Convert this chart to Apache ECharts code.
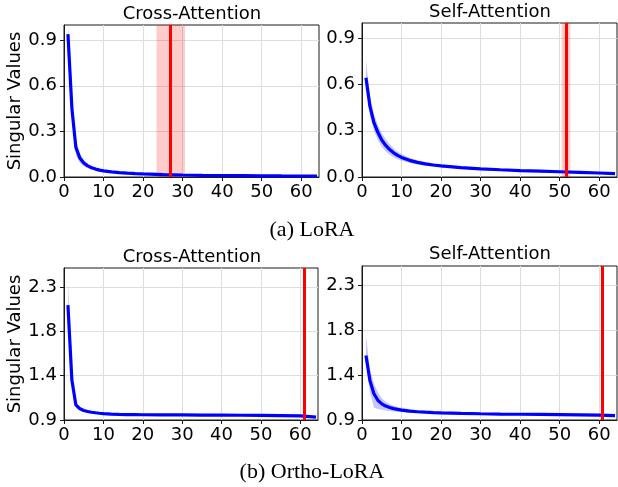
<!DOCTYPE html>
<html>
<head>
<meta charset="utf-8">
<script src="https://cdn.jsdelivr.net/npm/echarts@6/dist/echarts.min.js"></script>
<style>
  html, body { margin: 0; padding: 0; background: #fff; }
  #chart { width: 618px; height: 487px; }
</style>
</head>
<body>
<div id="chart"></div>
<script>
// singular value index (x) shared by all four panels
const xs = [1, 2, 3, 4, 5, 6, 7, 8, 9, 10, 12, 14, 16, 18, 20, 25, 30, 35, 40, 45, 50, 55, 60, 64];

// (a) LoRA, cross-attention
const loraCrossMean = [0.94, 0.45, 0.195, 0.125, 0.092, 0.073, 0.061, 0.052, 0.045, 0.040, 0.034, 0.029, 0.025, 0.022, 0.020, 0.016, 0.013, 0.011, 0.010, 0.009, 0.008, 0.007, 0.0065, 0.006];
const loraCrossLo = [0.90, 0.39, 0.145, 0.092, 0.071, 0.058, 0.050, 0.044, 0.039, 0.035, 0.030, 0.026, 0.022, 0.020, 0.018, 0.014, 0.012, 0.010, 0.009, 0.008, 0.007, 0.006, 0.006, 0.005];
const loraCrossHi = [1.10, 0.53, 0.245, 0.160, 0.114, 0.089, 0.072, 0.061, 0.052, 0.046, 0.038, 0.033, 0.028, 0.025, 0.022, 0.018, 0.014, 0.012, 0.011, 0.010, 0.009, 0.008, 0.007, 0.007];

// (a) LoRA, self-attention
const loraSelfMean = [0.645, 0.46, 0.355, 0.29, 0.24, 0.205, 0.178, 0.157, 0.140, 0.127, 0.108, 0.095, 0.085, 0.078, 0.072, 0.061, 0.053, 0.047, 0.042, 0.038, 0.034, 0.030, 0.026, 0.022];
const loraSelfLo = [0.60, 0.40, 0.300, 0.240, 0.196, 0.166, 0.145, 0.129, 0.116, 0.106, 0.091, 0.081, 0.073, 0.068, 0.063, 0.054, 0.047, 0.042, 0.038, 0.034, 0.031, 0.027, 0.023, 0.019];
const loraSelfHi = [0.76, 0.53, 0.410, 0.340, 0.285, 0.245, 0.212, 0.186, 0.165, 0.149, 0.125, 0.109, 0.097, 0.088, 0.081, 0.068, 0.059, 0.052, 0.046, 0.042, 0.037, 0.033, 0.029, 0.025];

// (b) Ortho-LoRA, cross-attention
const orthoCrossMean = [2.11, 1.32, 1.06, 1.02, 1.000, 0.990, 0.982, 0.976, 0.971, 0.967, 0.962, 0.959, 0.957, 0.956, 0.955, 0.954, 0.953, 0.952, 0.951, 0.950, 0.949, 0.947, 0.943, 0.930];
const orthoCrossLo = [2.05, 1.26, 1.030, 0.998, 0.986, 0.979, 0.974, 0.969, 0.965, 0.962, 0.958, 0.955, 0.953, 0.952, 0.951, 0.950, 0.949, 0.948, 0.947, 0.946, 0.945, 0.943, 0.939, 0.926];
const orthoCrossHi = [2.37, 1.39, 1.090, 1.042, 1.015, 1.002, 0.991, 0.984, 0.978, 0.973, 0.966, 0.963, 0.961, 0.960, 0.959, 0.958, 0.957, 0.956, 0.955, 0.954, 0.953, 0.951, 0.947, 0.934];

// (b) Ortho-LoRA, self-attention
const orthoSelfMean = [1.57, 1.31, 1.175, 1.105, 1.068, 1.045, 1.030, 1.018, 1.010, 1.003, 0.993, 0.986, 0.981, 0.977, 0.974, 0.969, 0.965, 0.962, 0.960, 0.958, 0.956, 0.954, 0.951, 0.946];
const orthoSelfLo = [1.52, 1.19, 1.030, 1.015, 1.006, 0.998, 0.993, 0.989, 0.986, 0.983, 0.978, 0.975, 0.972, 0.969, 0.967, 0.963, 0.960, 0.957, 0.955, 0.953, 0.951, 0.949, 0.946, 0.941];
const orthoSelfHi = [1.78, 1.43, 1.280, 1.190, 1.125, 1.090, 1.065, 1.048, 1.036, 1.027, 1.013, 1.002, 0.995, 0.989, 0.985, 0.977, 0.971, 0.967, 0.965, 0.963, 0.961, 0.959, 0.956, 0.951];

// red marker (rank cut-off) per panel, and its shaded spread
const redLines = [27, 51.6, 60.9, 60.8];
const redBands = [[23.4, 30.6], [50.5, 52.7], null, null];

// tick values
const xTicks = [0, 10, 20, 30, 40, 50, 60];
const loraYTicks = [0, 0.3, 0.6, 0.9];
const orthoYTicks = [0.9, 0.9 + 1.4 / 3, 0.9 + 2.8 / 3, 2.3];

const titles = ["Cross-Attention", "Self-Attention", "Cross-Attention", "Self-Attention"];
const captions = ["(a) LoRA", "(b) Ortho-LoRA"];

const SANS = "DejaVu Sans";
const INK = "#1a1a1a";

const panels = [
  { mean: loraCrossMean, lo: loraCrossLo, hi: loraCrossHi, yMin: 0, yMax: 1.0, yTicks: loraYTicks,
    box: { left: 64, top: 25, width: 255, height: 152 }, titleXY: [192, 14], ylabel: true },
  { mean: loraSelfMean, lo: loraSelfLo, hi: loraSelfHi, yMin: 0, yMax: 1.0, yTicks: loraYTicks,
    box: { left: 362, top: 23, width: 255, height: 154 }, titleXY: [490, 12], ylabel: false },
  { mean: orthoCrossMean, lo: orthoCrossLo, hi: orthoCrossHi, yMin: 0.9, yMax: 2.5, yTicks: orthoYTicks,
    box: { left: 64, top: 268, width: 254, height: 152 }, titleXY: [192, 257], ylabel: true },
  { mean: orthoSelfMean, lo: orthoSelfLo, hi: orthoSelfHi, yMin: 0.9, yMax: 2.5, yTicks: orthoYTicks,
    box: { left: 362, top: 266, width: 255, height: 154 }, titleXY: [490, 254], ylabel: false }
];

const pairs = (ys) => xs.map((x, i) => [x, ys[i]]);

// polygon between lo and hi, mapped through the panel's axes
function bandRenderer(p) {
  return function (params, api) {
    if (params.dataIndex !== 0) return null;
    const upper = xs.map((x, k) => api.coord([x, p.hi[k]]));
    const lower = xs.map((x, k) => api.coord([x, p.lo[k]])).reverse();
    const cs = params.coordSys;
    const pts = echarts.graphic.clipPointsByRect(upper.concat(lower), {
      x: cs.x, y: cs.y, width: cs.width, height: cs.height
    });
    return {
      type: "polygon",
      shape: { points: pts },
      style: { fill: "rgba(0,0,255,0.22)", stroke: null },
      silent: true
    };
  };
}

const grid = [], xAxis = [], yAxis = [], series = [], graphic = [];

panels.forEach((p, i) => {
  grid.push(Object.assign({ show: true, borderColor: INK, borderWidth: 1, backgroundColor: "transparent" }, p.box));

  xAxis.push({
    type: "value", gridIndex: i, min: 0, max: 64.5,
    axisLine: { show: true, onZero: false, lineStyle: { color: INK, width: 1 } },
    axisTick: { show: true, length: 4, customValues: xTicks, lineStyle: { color: INK } },
    axisLabel: { customValues: xTicks, fontSize: 18, fontFamily: SANS, color: "#000", margin: 6 },
    splitLine: { show: true, lineStyle: { color: "#dedede", width: 1 } }
  });

  yAxis.push({
    type: "value", gridIndex: i, min: p.yMin, max: p.yMax,
    name: p.ylabel ? "Singular Values" : "",
    nameLocation: "middle", nameGap: 40,
    nameTextStyle: { fontSize: 18, fontFamily: SANS, color: "#000" },
    axisLine: { show: true, onZero: false, lineStyle: { color: INK, width: 1 } },
    axisTick: { show: true, length: 4, customValues: p.yTicks, lineStyle: { color: INK } },
    axisLabel: { customValues: p.yTicks, fontSize: 18, fontFamily: SANS, color: "#000", margin: 7,
      formatter: (v) => v.toFixed(1) },
    splitLine: { show: true, lineStyle: { color: "#dedede", width: 1 } }
  });

  // shaded spread
  series.push({
    type: "custom", xAxisIndex: i, yAxisIndex: i, silent: true, z: 2,
    data: [[xs[0], p.mean[0]]],
    renderItem: bandRenderer(p)
  });

  // mean curve
  series.push({
    type: "line", xAxisIndex: i, yAxisIndex: i, symbol: "none", silent: true,
    data: pairs(p.mean), lineStyle: { color: "#0000ff", width: 3.2 }, z: 3
  });

  // red cut-off line with optional shaded range
  const marker = {
    type: "line", xAxisIndex: i, yAxisIndex: i, data: [], silent: true, z: 4,
    markLine: {
      silent: true, symbol: "none", animation: false,
      label: { show: false },
      lineStyle: { color: "#ff0000", width: 3, type: "solid" },
      data: [{ xAxis: redLines[i] }]
    }
  };
  if (redBands[i]) {
    marker.markArea = {
      silent: true,
      itemStyle: { color: "rgba(255,0,0,0.2)" },
      data: [[{ xAxis: redBands[i][0] }, { xAxis: redBands[i][1] }]]
    };
  }
  series.push(marker);

  graphic.push({
    type: "text", x: p.titleXY[0], y: p.titleXY[1],
    style: { text: titles[i], fontSize: 18, fontFamily: SANS, fill: "#000", align: "center", verticalAlign: "middle" }
  });
});

graphic.push({
  type: "text", x: 312, y: 230,
  style: { text: captions[0], fontSize: 22, fontFamily: "Liberation Serif", fill: "#000", align: "center", verticalAlign: "middle" }
});
graphic.push({
  type: "text", x: 312, y: 472,
  style: { text: captions[1], fontSize: 22, fontFamily: "Liberation Serif", fill: "#000", align: "center", verticalAlign: "middle" }
});

const chart = echarts.init(document.getElementById("chart"), null, { renderer: "canvas" });
chart.setOption({
  animation: false,
  backgroundColor: "#fff",
  grid, xAxis, yAxis, series, graphic
});
</script>
</body>
</html>
